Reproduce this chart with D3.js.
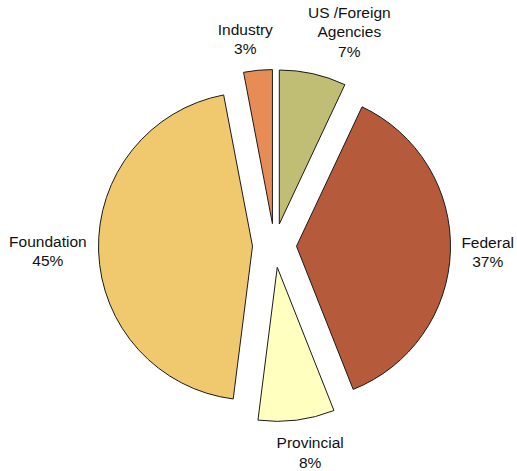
<!DOCTYPE html>
<html>
<head>
<meta charset="utf-8">
<script src="https://cdn.jsdelivr.net/npm/d3@7"></script>
<style>
  html, body { margin: 0; padding: 0; background: #ffffff; }
  svg { display: block; }
  text { font-family: "Liberation Sans", Arial, sans-serif; font-size: 15.5px; fill: #111; }
</style>
</head>
<body>
<svg id="chart" width="517" height="471"></svg>
<script>
// ---- data ----
const categories = ["US /Foreign Agencies", "Federal", "Provincial", "Foundation", "Industry"];
const labelLines = [["US /Foreign", "Agencies"], ["Federal"], ["Provincial"], ["Foundation"], ["Industry"]];
const values = [7, 37, 8, 45, 3];
const colors = ["#C0BE74", "#B55B3C", "#FFFFC0", "#F0C96E", "#E88C56"];

// ---- layout (not data) ----
const W = 517, H = 471;
const cx = 274.5, cy = 245.5;
const R = 154;
const explode = 22;
const labelR = 187;
const lineH = 19.5;
const labelNudge = [[25, -2], [0, 1], [8, 3], [-1, 0], [-9, 0]];

const svg = d3.select("#chart");
const g = svg.append("g").attr("transform", `translate(${cx},${cy})`);

const pie = d3.pie().sort(null).value(d => d)
  .startAngle(0).endAngle(2 * Math.PI);
const arcs = pie(values);
const arc = d3.arc().innerRadius(0).outerRadius(R);
const total = d3.sum(values);
const pct = d3.format(".0%");

arcs.forEach((a, i) => {
  const mid = (a.startAngle + a.endAngle) / 2;
  const ox = explode * Math.sin(mid), oy = -explode * Math.cos(mid);
  g.append("path")
    .attr("d", arc(a))
    .attr("transform", `translate(${ox},${oy})`)
    .attr("fill", colors[i])
    .attr("stroke", "#1a1a1a")
    .attr("stroke-width", 1)
    .attr("stroke-linejoin", "miter");
});

arcs.forEach((a, i) => {
  const mid = (a.startAngle + a.endAngle) / 2;
  const s = Math.sin(mid), c = Math.cos(mid);
  const lines = labelLines[i].concat([pct(values[i] / total)]);
  const t = g.append("text").attr("text-anchor", "middle");
  lines.forEach((ln, k) => {
    t.append("tspan").attr("x", 0).attr("y", k * lineH).text(ln);
  });
  const bb = t.node().getBBox();
  const halfW = bb.width / 2, halfH = (lines.length * lineH) / 2;
  const bx = labelR * s + halfW * s + labelNudge[i][0];
  const by = -labelR * c - halfH * c + labelNudge[i][1];
  const top = by - halfH;
  t.selectAll("tspan").attr("x", bx).attr("y", (d, k) => top + 14.5 + k * lineH);
});
</script>
</body>
</html>
